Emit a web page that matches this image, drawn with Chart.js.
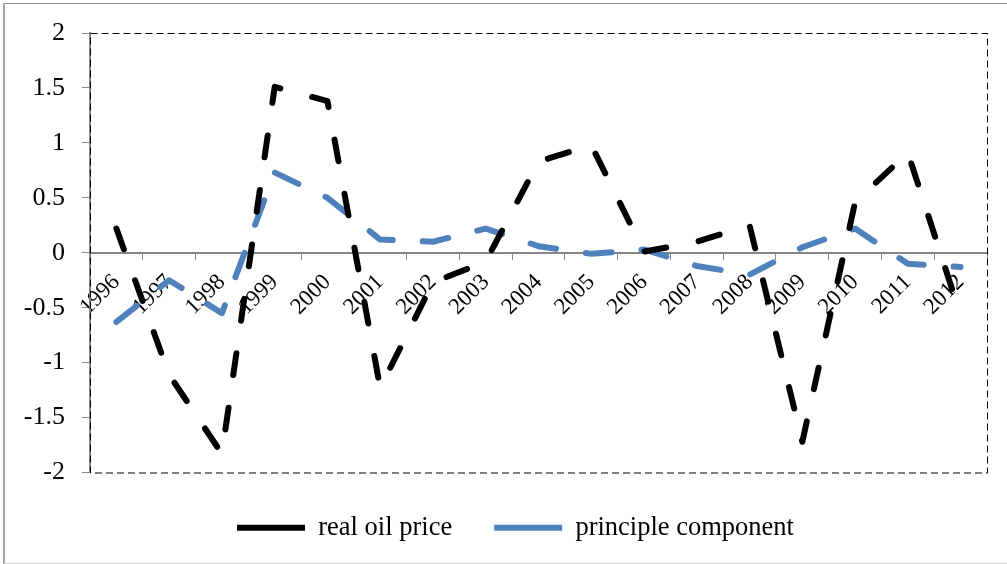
<!DOCTYPE html>
<html>
<head>
<meta charset="utf-8">
<script src="https://cdn.jsdelivr.net/npm/chart.js@4.4.1/dist/chart.umd.min.js"></script>
<style>
  html, body { margin: 0; padding: 0; background: #fff; }
  #wrap { position: relative; width: 1007px; height: 564px; }
  #frame {
    position: absolute; left: 3px; top: 3px; right: -2px; bottom: 0;
    border-left: 2px solid #a6a6a6; border-top: 1px solid #8c8c8c; border-bottom: 1px solid #d4d4d4;
    pointer-events: none;
  }
</style>
</head>
<body>
<div id="wrap"><canvas id="chart"></canvas><div id="frame"></div></div>
<script>
// data
const years = ['1996', '1997', '1998', '1999', '2000', '2001', '2002', '2003', '2004',
               '2005', '2006', '2007', '2008', '2009', '2010', '2011', '2012'];
const realOilPrice = [0.22, -1.11, -1.83, 1.51, 1.38, -1.23, -0.27, -0.08, 0.83,
                      0.98, 0.01, 0.10, 0.25, -1.72, 0.46, 0.91, -0.57];
const principleComponent = [-0.63, -0.25, -0.55, 0.73, 0.50, 0.12, 0.10, 0.22, 0.06,
                            -0.01, 0.03, -0.12, -0.20, 0.05, 0.22, -0.10, -0.13];
const yMin = -2, yMax = 2, yStep = 0.5;

const serif = "'Times New Roman', 'Liberation Serif', serif";

// dashed border round the plot area (excel style)
const plotFrame = {
    id: 'plotFrame',
    beforeDatasetsDraw(chart) {
        const { ctx, chartArea: a } = chart;
        ctx.save();
        ctx.strokeStyle = '#000';
        ctx.lineWidth = 1;
        ctx.setLineDash([7, 4]);
        ctx.strokeRect(a.left + 0.5, a.top + 0.5, a.right - a.left, a.bottom - a.top);
        ctx.restore();
    }
};

// legend sits a bit right of the canvas centre in the original
const legendNudge = {
    id: 'legendNudge',
    afterLayout(chart) {
        if (!chart.legend) return;
        chart.legend.left += 12;
        chart.legend.right += 12;
    }
};

new Chart(document.getElementById('chart'), {
    type: 'line',
    data: {
        labels: years,
        datasets: [
            {
                label: 'real oil price',
                data: realOilPrice,
                borderColor: '#000000',
                backgroundColor: '#000000',
                borderWidth: 6,
                borderDash: [22, 33],
                borderCapStyle: 'round',
                borderJoinStyle: 'round',
                pointRadius: 0,
                tension: 0
            },
            {
                label: 'principle component',
                data: principleComponent,
                borderColor: '#4f81bd',
                backgroundColor: '#4f81bd',
                borderWidth: 6,
                borderDash: [26, 30],
                borderCapStyle: 'round',
                borderJoinStyle: 'round',
                pointRadius: 0,
                tension: 0
            }
        ]
    },
    options: {
        responsive: true,
        maintainAspectRatio: false,
        animation: false,
        layout: { padding: { left: 20, right: 20, top: 33, bottom: 13 } },
        plugins: {
            tooltip: { enabled: false },
            legend: {
                position: 'bottom',
                labels: {
                    usePointStyle: true,
                    pointStyle: 'line',
                    pointStyleWidth: 68,
                    padding: 42,
                    color: '#000',
                    font: { family: serif, size: 26.5 }
                }
            }
        },
        scales: {
            x: {
                position: { y: 0 },
                offset: true,
                grid: { display: true, offset: true, drawOnChartArea: false, drawTicks: true, tickLength: 6, color: '#868686' },
                border: { display: true, color: '#868686', width: 2 },
                ticks: {
                    autoSkip: false, minRotation: 45, maxRotation: 45, padding: 10,
                    color: '#000', font: { family: serif, size: 23 }
                }
            },
            y: {
                min: yMin,
                max: yMax,
                grid: { display: true, drawOnChartArea: false, drawTicks: true, tickLength: 8, color: '#868686' },
                border: { display: true, color: '#868686', width: 2 },
                ticks: {
                    stepSize: yStep, padding: 17, color: '#000', font: { family: serif, size: 26 },
                    callback: v => String(v)
                },
                afterFit(scale) { scale.width = 70; }
            }
        }
    },
    plugins: [plotFrame, legendNudge]
});
</script>
</body>
</html>
